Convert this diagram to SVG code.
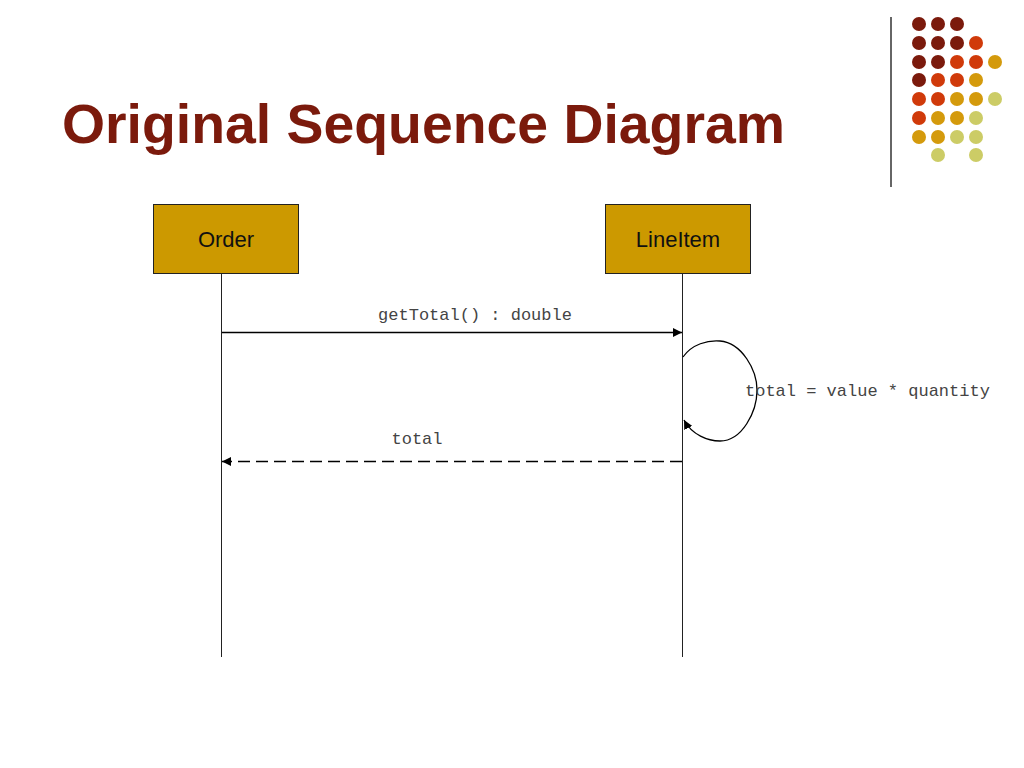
<svg xmlns="http://www.w3.org/2000/svg" width="1024" height="768" viewBox="0 0 1024 768">
<style>
.title{font-family:"Liberation Sans",Arial,sans-serif;font-weight:bold;font-size:55px;fill:#7B1A0C}
.box{fill:#CC9900;stroke:#222;stroke-width:1}
.name{font-family:"Liberation Sans",Arial,sans-serif;font-size:22px;fill:#111;text-anchor:middle}
.life{stroke:#222;stroke-width:1;fill:none}
.msg{stroke:#000;stroke-width:1.3;fill:none}
.lbl{font-family:"Liberation Mono","Courier New",monospace;font-size:17px;fill:#444}
.d1{fill:#7B1A0C}.d2{fill:#D03A0A}.d3{fill:#D49A0C}.d4{fill:#CCCC66}
</style>
<defs>
<marker id="ah" viewBox="0 0 10 10" refX="10" refY="5" markerWidth="9" markerHeight="9" markerUnits="userSpaceOnUse" orient="auto">
<path d="M0,0 L10,5 L0,10 z" fill="#000"/>
</marker>
</defs>
<rect width="1024" height="768" fill="#fff"/>
<g id="decor">
<line x1="891" y1="17" x2="891" y2="187" stroke="#333" stroke-width="1.5"/>
<circle class="d1" cx="919" cy="24" r="7"/><circle class="d1" cx="938" cy="24" r="7"/><circle class="d1" cx="957" cy="24" r="7"/>
<circle class="d1" cx="919" cy="43" r="7"/><circle class="d1" cx="938" cy="43" r="7"/><circle class="d1" cx="957" cy="43" r="7"/><circle class="d2" cx="976" cy="43" r="7"/>
<circle class="d1" cx="919" cy="62" r="7"/><circle class="d1" cx="938" cy="62" r="7"/><circle class="d2" cx="957" cy="62" r="7"/><circle class="d2" cx="976" cy="62" r="7"/><circle class="d3" cx="995" cy="62" r="7"/>
<circle class="d1" cx="919" cy="80" r="7"/><circle class="d2" cx="938" cy="80" r="7"/><circle class="d2" cx="957" cy="80" r="7"/><circle class="d3" cx="976" cy="80" r="7"/>
<circle class="d2" cx="919" cy="99" r="7"/><circle class="d2" cx="938" cy="99" r="7"/><circle class="d3" cx="957" cy="99" r="7"/><circle class="d3" cx="976" cy="99" r="7"/><circle class="d4" cx="995" cy="99" r="7"/>
<circle class="d2" cx="919" cy="118" r="7"/><circle class="d3" cx="938" cy="118" r="7"/><circle class="d3" cx="957" cy="118" r="7"/><circle class="d4" cx="976" cy="118" r="7"/>
<circle class="d3" cx="919" cy="137" r="7"/><circle class="d3" cx="938" cy="137" r="7"/><circle class="d4" cx="957" cy="137" r="7"/><circle class="d4" cx="976" cy="137" r="7"/>
<circle class="d4" cx="938" cy="155" r="7"/><circle class="d4" cx="976" cy="155" r="7"/>
</g>
<text class="title" x="62" y="143" textLength="723" lengthAdjust="spacingAndGlyphs">Original Sequence Diagram</text>
<g id="order">
<rect class="box" x="153.5" y="204.5" width="145" height="69"/>
<text class="name" x="226" y="247">Order</text>
<line class="life" x1="221.5" y1="273" x2="221.5" y2="657"/>
</g>
<g id="lineitem">
<rect class="box" x="605.5" y="204.5" width="145" height="69"/>
<text class="name" x="678" y="247">LineItem</text>
<line class="life" x1="682.5" y1="273" x2="682.5" y2="657"/>
</g>
<g id="connectors">
<line class="msg" x1="222" y1="332.5" x2="682" y2="332.5" marker-end="url(#ah)"/>
<text class="lbl" x="475" y="320" text-anchor="middle">getTotal() : double</text>
<path class="msg" d="M683,357 C692,344 708,340 720,341 C742,343 757,370 757,390 C757,412 742,441 720,441 C708,441 692,435 684,420" marker-end="url(#ah)"/>
<text class="lbl" x="745" y="396">total = value * quantity</text>
<line class="msg" x1="682" y1="461.5" x2="222" y2="461.5" stroke-dasharray="12,6" marker-end="url(#ah)"/>
<text class="lbl" x="417" y="444" text-anchor="middle">total</text>
</g>
</svg>
